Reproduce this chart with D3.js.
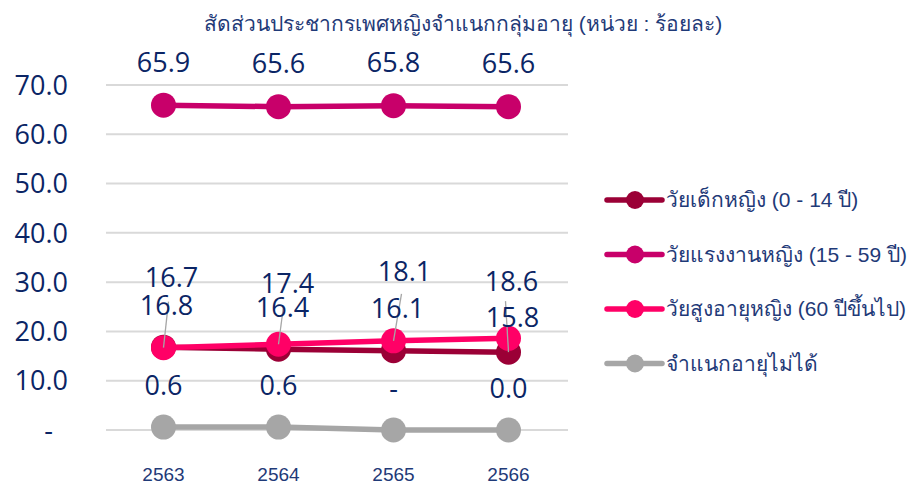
<!DOCTYPE html>
<html><head><meta charset="utf-8">
<script src="https://cdn.jsdelivr.net/npm/d3@7"></script>
<style>html,body{margin:0;padding:0;background:#fff;}svg{display:block;}</style>
</head><body>
<svg id="chart" width="911" height="483"></svg>
<script>
const title = "สัดส่วนประชากรเพศหญิงจำแนกกลุ่มอายุ (หน่วย : ร้อยละ)";
const years = ["2563", "2564", "2565", "2566"];
const seriesNames = ["วัยเด็กหญิง (0 - 14 ปี)", "วัยแรงงานหญิง (15 - 59 ปี)", "วัยสูงอายุหญิง (60 ปีขึ้นไป)", "จำแนกอายุไม่ได้"];
const childValues = [16.8, 16.4, 16.1, 15.8];
const workingValues = [65.9, 65.6, 65.8, 65.6];
const elderlyValues = [16.7, 17.4, 18.1, 18.6];
const unknownValues = [0.6, 0.6, 0, 0.0];
const unknownLabels = ["0.6", "0.6", "-", "0.0"];
const yTicks = [0, 10, 20, 30, 40, 50, 60, 70];
const yTickLabels = ["-", "10.0", "20.0", "30.0", "40.0", "50.0", "60.0", "70.0"];

// styling / layout (not data)
const colors = ["#9B0036", "#C8006A", "#FF0066", "#A6A6A6"];
const navy = "#0B2565";
const navy2 = "#1F3A78";
// label offsets in px relative to the point [dx, dy]
const labelOffsets = [
  [[3,-42],[4,-42],[4,-42],[4,-35]],
  [[0,-43],[0,-43],[0,-43],[0,-43]],
  [[8,-70],[9,-61],[11,-70],[3,-57]],
  [[0,-42],[0,-42],[0,-42],[0,-42]]
];
// leader lines: [seriesIndex, categoryIndex, dx, dy of end relative to point]
const leaders = [[2,0,5,-46],[2,1,5,-38],[2,2,8,-47],[0,3,-3,-51]];

const seriesValues = [childValues, workingValues, elderlyValues, unknownValues];
const seriesLabels = [
  childValues.map(v => v.toFixed(1)),
  workingValues.map(v => v.toFixed(1)),
  elderlyValues.map(v => v.toFixed(1)),
  unknownLabels
];

const svg = d3.select("#chart");
const x = d3.scaleBand().domain(years).range([106, 566]);
const y = d3.scaleLinear().domain([0, 70]).range([430, 85]);
const cx = d => x(d) + x.bandwidth() / 2;

// title
svg.append("text").attr("x", 463).attr("y", 31).attr("text-anchor", "middle")
  .attr("font-family", "Liberation Sans, Arial, sans-serif").attr("font-size", 21)
  .attr("fill", navy2).text(title);

// gridlines
svg.append("g").selectAll("line").data(yTicks).join("line")
  .attr("x1", 106).attr("x2", 568).attr("y1", d => y(d)).attr("y2", d => y(d))
  .attr("stroke", "#D9D9D9").attr("stroke-width", 2);

// y axis labels
const yAxis = d3.axisLeft(y).tickValues(yTicks).tickFormat((d, i) => yTickLabels[i]).tickSize(0).tickPadding(0);
const gy = svg.append("g").attr("transform", "translate(68,0)").call(yAxis);
gy.select(".domain").remove();
gy.selectAll("text").attr("font-family", "Open Sans, sans-serif").attr("font-size", 27)
  .attr("fill", navy).attr("dy", "0.34em");
gy.selectAll(".tick").filter((d) => d === 0).select("text").attr("x", -15);

// x axis labels
const xAxis = d3.axisBottom(x).tickSize(0).tickPadding(0);
const gx = svg.append("g").attr("transform", "translate(0,467)").call(xAxis);
gx.select(".domain").remove();
gx.selectAll("text").attr("font-family", "Liberation Sans, Arial, sans-serif").attr("font-size", 19)
  .attr("fill", navy2).attr("dy", "0.71em");

// lines & points
const line = d3.line().x((d, i) => cx(years[i])).y(d => y(d));
seriesValues.forEach((vals, s) => {
  const g = svg.append("g");
  g.append("path").attr("d", line(vals)).attr("fill", "none")
    .attr("stroke", colors[s]).attr("stroke-width", 5.5).attr("stroke-linejoin", "round");
  g.selectAll("circle").data(vals).join("circle")
    .attr("cx", (d, i) => cx(years[i])).attr("cy", d => y(d)).attr("r", 12.5)
    .attr("fill", colors[s]);
});

// leader lines
svg.append("g").selectAll("line").data(leaders).join("line")
  .attr("x1", d => cx(years[d[1]])).attr("y1", d => y(seriesValues[d[0]][d[1]]))
  .attr("x2", d => cx(years[d[1]]) + d[2]).attr("y2", d => y(seriesValues[d[0]][d[1]]) + d[3])
  .attr("stroke", "#A6A6A6").attr("stroke-width", 1.3);

// data labels
seriesValues.forEach((vals, s) => {
  svg.append("g").selectAll("text").data(vals).join("text")
    .attr("x", (d, i) => cx(years[i]) + labelOffsets[s][i][0])
    .attr("y", (d, i) => y(d) + labelOffsets[s][i][1])
    .attr("dy", "0.36em").attr("text-anchor", "middle")
    .attr("font-family", "Open Sans, sans-serif").attr("font-size", 27).attr("fill", navy)
    .text((d, i) => seriesLabels[s][i]);
});

// legend
const lg = svg.append("g");
seriesNames.forEach((name, s) => {
  const ly = 200 + s * 54.5;
  lg.append("line").attr("x1", 607).attr("x2", 662).attr("y1", ly).attr("y2", ly)
    .attr("stroke", colors[s]).attr("stroke-width", 5.5).attr("stroke-linecap", "round");
  lg.append("circle").attr("cx", 635).attr("cy", ly).attr("r", 9).attr("fill", colors[s]);
  lg.append("text").attr("x", 666).attr("y", ly).attr("dy", "0.35em")
    .attr("font-family", "Liberation Sans, Arial, sans-serif").attr("font-size", 21)
    .attr("fill", navy2).text(name);
});
</script>
</body></html>
